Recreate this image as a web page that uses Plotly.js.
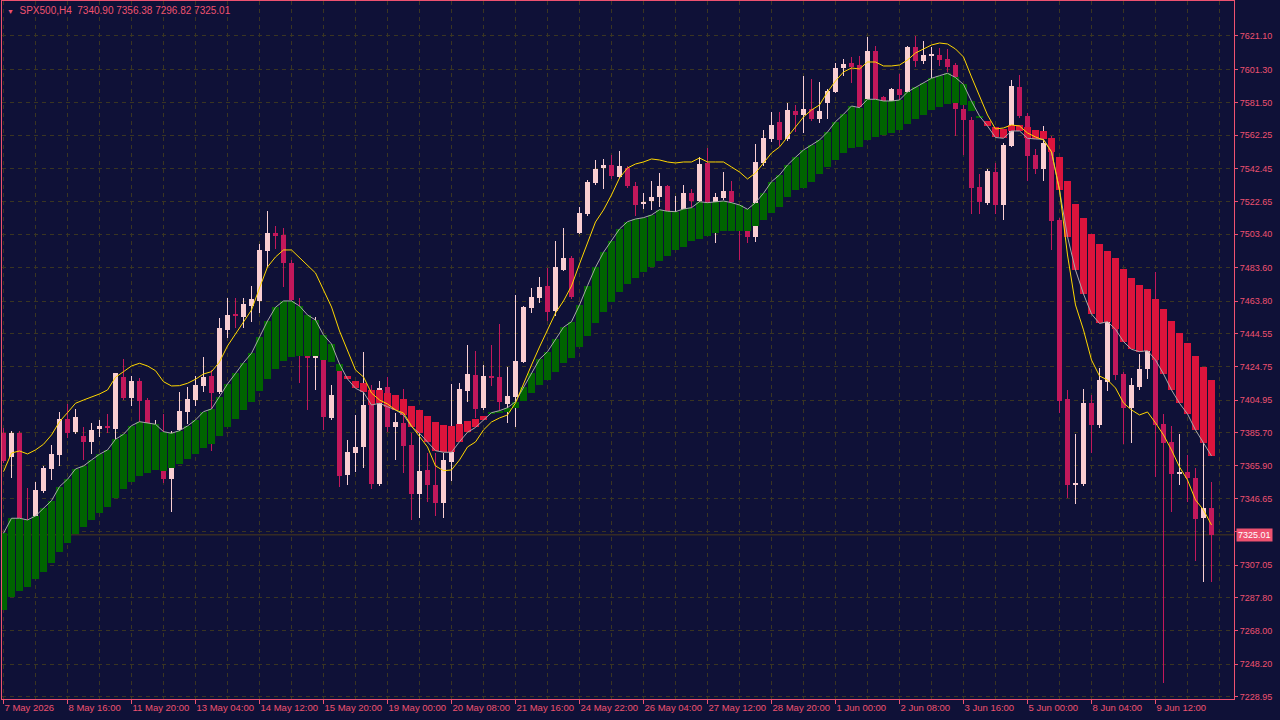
<!DOCTYPE html>
<html><head><meta charset="utf-8">
<script src="https://cdn.plot.ly/plotly-3.0.1.min.js"></script>
<style>html,body{margin:0;padding:0;background:#0F1137;overflow:hidden}#chart{width:1280px;height:720px}</style>
</head><body><div id="chart"></div>
<script>
const symbol = 'SPX500,H4';
const timeLabels = ['7 May 2026','8 May 16:00','11 May 20:00','13 May 04:00','14 May 12:00','15 May 20:00','19 May 00:00','20 May 08:00','21 May 16:00','24 May 22:00','26 May 04:00','27 May 12:00','28 May 20:00','1 Jun 00:00','2 Jun 08:00','3 Jun 16:00','5 Jun 00:00','8 Jun 04:00','9 Jun 12:00'];
const priceTicks = [7621.10,7601.30,7581.50,7562.25,7542.45,7522.65,7503.40,7483.60,7463.80,7444.55,7424.75,7404.95,7385.70,7365.90,7346.65,7326.85,7307.05,7287.80,7268.00,7248.20,7228.95];

const openP = [7385.48,7371.06,7385.48,7332.66,7336.40,7351.06,7364.12,7372.43,7393.79,7386.08,
7383.70,7380.32,7387.68,7389.64,7387.86,7418.90,7406.44,7416.35,7405.05,7381.33,
7362.93,7358.18,7387.27,7398.13,7405.05,7413.56,7419.49,7410.00,7446.62,7455.93,
7454.51,7461.04,7464.00,7493.68,7504.01,7503.00,7486.20,7458.49,7446.62,7430.18,
7437.71,7394.21,7422.88,7360.56,7373.79,7377.35,7411.01,7355.22,7412.61,7389.22,
7391.60,7378.36,7349.28,7363.53,7354.62,7344.12,7368.45,7390.83,7410.59,7419.91,
7400.14,7419.31,7418.54,7402.70,7406.67,7427.80,7459.85,7465.79,7472.73,7458.07,
7482.23,7489.53,7504.36,7515.46,7534.04,7542.58,7544.54,7537.60,7542.58,7532.08,
7521.22,7523.35,7525.73,7532.08,7510.71,7518.43,7527.92,7523.18,7545.91,7522.76,
7524.78,7529.11,7519.02,7514.87,7501.63,7545.91,7559.97,7569.88,7559.80,7576.77,
7574.22,7577.78,7571.84,7581.52,7588.05,7602.29,7604.90,7603.89,7583.54,7612.20,
7584.90,7582.11,7589.65,7588.05,7614.40,7606.27,7609.53,7609.83,7607.45,7603.89,
7577.78,7571.25,7531.31,7521.81,7540.57,7520.80,7555.82,7591.01,7573.62,7550.48,
7542.17,7560.39,7511.90,7405.49,7354.62,7355.22,7403.11,7390.23,7415.93,7447.80,
7420.50,7400.50,7412.96,7423.47,7431.78,7390.83,7380.14,7361.15,7362.34,7358.78,
7335.04,7340.90];
const highP = [7388.45,7386.67,7386.67,7352.84,7356.40,7365.90,7378.36,7397.95,7402.70,7399.73,
7389.05,7391.42,7393.20,7396.76,7421.27,7429.23,7419.31,7418.13,7406.26,7393.20,
7396.76,7386.85,7410.00,7412.79,7419.49,7430.77,7422.88,7453.74,7465.61,7465.61,
7465.61,7472.73,7497.66,7517.24,7508.34,7506.97,7488.16,7465.79,7452.55,7454.51,
7440.68,7413.97,7427.03,7381.33,7396.17,7433.38,7413.97,7416.35,7418.54,7397.35,
7411.60,7385.48,7385.48,7373.44,7373.44,7373.44,7414.39,7414.98,7437.71,7434.33,
7425.84,7437.71,7450.18,7424.48,7467.39,7461.04,7471.36,7478.25,7483.59,7499.61,
7507.33,7490.53,7519.79,7535.64,7547.51,7548.10,7550.48,7552.85,7543.95,7534.27,
7527.75,7535.05,7539.62,7532.67,7526.14,7532.67,7530.12,7549.11,7554.81,7528.10,
7540.21,7535.05,7520.21,7516.65,7557.01,7565.32,7576.00,7576.00,7581.34,7580.15,
7597.54,7595.41,7593.98,7589.65,7604.90,7607.45,7608.82,7609.23,7620.69,7615.17,
7585.67,7590.42,7598.55,7615.17,7621.10,7618.14,7614.40,7613.80,7613.21,7604.90,
7581.16,7573.03,7539.20,7542.17,7545.55,7557.60,7594.99,7597.96,7575.40,7554.04,
7567.69,7561.75,7513.09,7411.01,7384.89,7411.42,7408.04,7423.88,7453.74,7451.36,
7421.87,7418.31,7432.37,7435.34,7481.22,7396.76,7389.64,7384.89,7372.43,7364.53,
7380.14,7356.38];
const lowP = [7367.68,7358.78,7330.88,7321.98,7330.88,7350.05,7357.59,7365.90,7382.70,7384.89,
7369.46,7373.02,7383.29,7385.66,7381.33,7405.05,7401.69,7392.19,7388.45,7378.36,
7355.63,7338.78,7386.08,7390.83,7401.51,7410.00,7374.80,7408.63,7442.05,7447.80,
7447.62,7451.54,7456.70,7484.18,7494.51,7472.31,7461.45,7414.98,7399.14,7411.01,
7387.27,7393.20,7353.26,7354.62,7362.52,7364.89,7352.43,7354.03,7386.26,7369.46,
7361.92,7333.85,7334.86,7344.71,7336.22,7334.86,7357.17,7389.64,7404.06,7394.21,
7399.14,7413.38,7398.72,7391.60,7389.22,7427.03,7456.88,7462.82,7451.96,7454.92,
7481.63,7465.01,7503.59,7514.27,7532.67,7530.30,7536.23,7536.83,7530.89,7514.27,
7518.43,7517.84,7519.79,7515.46,7507.15,7516.65,7518.84,7521.99,7520.80,7498.43,
7523.76,7521.40,7488.16,7498.07,7499.02,7543.95,7558.19,7555.82,7558.79,7564.31,
7563.36,7570.66,7569.47,7571.67,7587.10,7597.54,7593.03,7577.19,7582.53,7582.53,
7577.19,7563.36,7583.11,7586.09,7602.53,7604.49,7595.41,7603.48,7599.74,7561.93,
7550.48,7515.28,7515.28,7520.80,7515.46,7511.90,7555.23,7572.44,7535.22,7539.20,
7535.05,7494.10,7397.18,7346.73,7343.35,7354.03,7373.44,7388.63,7410.59,7416.94,
7378.96,7379.73,7411.01,7417.53,7359.55,7237.29,7338.78,7354.62,7344.71,7309.69,
7297.23,7296.82];
const closeP = [7369.04,7385.66,7335.04,7324.95,7351.66,7364.89,7373.02,7393.79,7385.66,7394.98,
7380.32,7387.27,7389.64,7388.63,7421.09,7406.44,7416.35,7404.48,7391.60,7387.27,
7358.18,7364.89,7398.54,7405.66,7413.97,7418.90,7409.40,7447.80,7455.52,7455.10,
7462.05,7465.01,7494.10,7504.01,7502.58,7486.20,7464.40,7437.71,7430.18,7440.68,
7395.16,7408.04,7359.96,7374.03,7377.18,7402.10,7355.22,7412.01,7389.22,7392.19,
7377.77,7349.28,7363.11,7354.62,7344.12,7369.46,7374.98,7411.60,7420.50,7399.55,
7419.31,7418.31,7404.06,7407.44,7428.39,7460.44,7466.02,7472.31,7457.48,7484.18,
7489.53,7466.38,7516.23,7534.63,7542.17,7544.54,7538.19,7543.95,7532.26,7520.80,
7522.76,7525.73,7532.08,7516.83,7515.46,7527.92,7523.35,7545.14,7522.17,7525.73,
7529.11,7522.76,7507.15,7501.63,7546.14,7560.39,7568.28,7559.38,7577.19,7574.22,
7577.78,7571.84,7576.59,7588.46,7602.29,7604.49,7602.88,7578.79,7612.20,7583.54,
7581.34,7589.65,7586.09,7614.75,7606.27,7609.83,7609.83,7606.86,7602.88,7577.78,
7571.25,7531.07,7522.76,7540.98,7520.80,7556.41,7591.43,7573.62,7549.88,7542.17,
7557.78,7511.48,7404.65,7354.62,7355.63,7403.47,7390.23,7416.94,7452.13,7419.91,
7400.50,7413.97,7423.47,7435.16,7390.23,7379.73,7361.15,7361.92,7358.78,7334.62,
7340.90,7325.01];
const signalLine = [7325.96,7334.86,7334.86,7333.85,7336.22,7340.79,7345.30,7353.61,7358.01,7364.12,
7365.90,7369.46,7372.84,7375.40,7381.75,7384.71,7389.82,7392.19,7391.60,7390.65,
7386.26,7385.31,7386.85,7389.64,7393.20,7398.13,7399.73,7407.03,7414.57,7420.80,
7427.21,7432.79,7442.64,7451.96,7460.09,7463.83,7463.83,7460.86,7455.52,7452.55,
7443.65,7438.31,7426.44,7417.53,7412.01,7409.64,7402.10,7403.11,7401.09,7399.14,
7396.17,7389.22,7385.31,7380.32,7374.98,7374.03,7374.03,7380.32,7385.90,7388.75,
7393.20,7397.53,7398.72,7400.50,7404.06,7412.61,7420.92,7429.23,7433.74,7441.10,
7448.22,7451.54,7461.45,7472.91,7483.83,7492.73,7499.44,7506.56,7510.89,7512.49,
7513.27,7514.87,7518.01,7517.06,7516.83,7518.43,7519.20,7522.76,7522.17,7522.76,
7523.18,7522.17,7520.80,7518.25,7522.17,7527.75,7534.63,7538.61,7544.54,7549.11,
7553.45,7556.41,7559.38,7564.13,7570.24,7574.63,7579.56,7578.55,7583.54,7583.54,
7582.53,7582.53,7583.11,7587.87,7590.66,7593.39,7596.00,7597.54,7598.97,7596.47,
7592.32,7582.41,7573.62,7567.69,7560.86,7560.39,7564.72,7564.72,7560.39,7559.97,
7559.80,7552.44,7529.71,7501.99,7482.23,7467.98,7456.11,7450.47,7451.54,7447.03,
7439.67,7435.16,7433.74,7434.33,7428.81,7420.50,7411.01,7403.11,7396.76,7387.27,
7379.73,7371.83];
const cloudEdge = [7280.44,7288.33,7291.89,7294.26,7298.66,7303.17,7308.51,7315.04,7320.02,7325.54,
7329.87,7333.85,7338.18,7341.74,7347.09,7352.07,7356.58,7360.14,7361.92,7363.53,
7363.11,7364.89,7367.09,7370.05,7373.02,7376.76,7378.96,7383.70,7389.22,7393.79,
7399.14,7404.06,7410.41,7417.53,7423.47,7428.22,7430.77,7431.36,7431.36,7431.36,
7428.81,7427.80,7422.46,7419.31,7416.35,7415.34,7411.01,7411.01,7409.40,7408.04,
7405.49,7401.51,7399.14,7395.57,7392.19,7390.23,7389.82,7390.83,7392.61,7393.67,
7395.57,7396.76,7397.53,7398.13,7400.14,7404.48,7409.05,7413.97,7416.94,7421.87,
7427.21,7429.82,7436.35,7443.05,7450.95,7457.48,7463.41,7469.35,7473.92,7477.66,
7481.22,7484.18,7487.74,7490.53,7494.10,7496.05,7499.44,7500.62,7502.58,7504.36,
7505.37,7505.37,7505.37,7505.37,7508.34,7511.90,7516.23,7519.79,7525.55,7529.71,
7531.07,7534.63,7539.20,7543.36,7547.51,7551.66,7554.45,7555.40,7559.38,7561.34,
7562.17,7563.71,7565.32,7568.88,7571.84,7574.22,7577.19,7579.14,7580.75,7581.16,
7580.15,7576.77,7572.85,7570.83,7567.10,7565.73,7568.28,7567.99,7566.92,7565.32,
7564.72,7560.39,7549.11,7535.05,7521.40,7513.27,7503.59,7497.66,7493.50,7489.35,
7482.82,7477.48,7473.32,7470.95,7465.01,7459.08,7451.96,7444.66,7438.72,7431.18,
7424.83,7416.94];
const fastLine = [7362.52,7373.61,7374.80,7373.02,7375.40,7378.78,7384.30,7392.19,7397.53,7403.11,
7405.05,7406.67,7408.63,7411.01,7418.54,7421.87,7425.25,7426.85,7425.25,7422.46,
7415.93,7413.38,7413.56,7414.98,7417.36,7420.50,7421.87,7427.62,7437.12,7444.24,
7451.36,7458.49,7471.54,7484.01,7489.94,7494.10,7494.10,7489.35,7484.60,7480.44,
7470.36,7460.27,7446.02,7434.75,7422.88,7418.72,7409.22,7405.05,7402.70,7399.14,
7397.35,7389.64,7383.70,7377.18,7365.90,7363.11,7363.53,7369.46,7377.18,7380.14,
7387.27,7392.01,7394.39,7396.17,7403.29,7415.16,7425.84,7436.53,7446.62,7456.70,
7463.83,7472.73,7485.79,7498.25,7510.71,7517.84,7526.74,7536.83,7542.76,7545.14,
7546.32,7548.10,7547.51,7546.32,7545.73,7546.32,7546.32,7548.70,7546.32,7546.32,
7546.32,7543.36,7540.39,7536.23,7539.79,7545.73,7551.66,7555.23,7561.16,7567.69,
7573.03,7577.19,7580.15,7587.87,7594.40,7599.74,7602.11,7601.52,7605.67,7605.67,
7603.30,7603.30,7603.89,7606.86,7611.01,7613.39,7615.76,7616.95,7616.36,7613.39,
7608.64,7596.77,7584.90,7574.22,7565.91,7566.50,7568.28,7567.69,7563.53,7561.16,
7559.38,7552.26,7529.71,7491.13,7461.45,7446.62,7428.81,7419.31,7416.94,7412.19,
7403.29,7399.14,7396.17,7397.95,7391.42,7384.30,7375.40,7365.31,7357.59,7345.70,
7339.79,7330.88];

const BG = '#0F1137', AX = '#EE5270', GRID = '#3A3522';
const BULL = '#F9CED2', BEAR = '#C2185B', UPC = '#006400', DNC = '#DC143C';
const n = closeP.length;
const idx = closeP.map((_, i) => i);
const last = n - 1;
const candleCol = idx.map(i => closeP[i] >= openP[i] ? BULL : BEAR);

const wicks = {type:'bar', x:idx, base:lowP, y:idx.map(i => highP[i] - lowP[i]), width:0.12,
  marker:{color:candleCol, line:{width:0}}, hoverinfo:'skip'};
const bodies = {type:'bar', x:idx, base:idx.map(i => Math.min(openP[i], closeP[i])),
  y:idx.map(i => Math.max(Math.abs(closeP[i] - openP[i]), 0.35)), width:0.625,
  marker:{color:candleCol, line:{width:0}}, hoverinfo:'skip'};
const cloud = {type:'bar', x:idx, base:idx.map(i => Math.min(signalLine[i], cloudEdge[i])),
  y:idx.map(i => Math.max(Math.abs(signalLine[i] - cloudEdge[i]), 0.35)), width:0.875,
  marker:{color:idx.map(i => signalLine[i] >= cloudEdge[i] ? UPC : DNC), line:{width:0}}, hoverinfo:'skip'};
const grey = {type:'scatter', mode:'lines', x:idx, y:signalLine, line:{color:'#A8A8A8', width:1}, hoverinfo:'skip'};
const yellow = {type:'scatter', mode:'lines', x:idx, y:fastLine, line:{color:'#FFD700', width:1}, hoverinfo:'skip'};

const tickStep = 8;
const tickvals = timeLabels.map((_, k) => k * tickStep);
const fmt = v => v.toFixed(2);
const lastClose = closeP[last];

const layout = {
  width:1280, height:720,
  margin:{l:2, r:46, t:1, b:21, pad:0},
  paper_bgcolor:BG, plot_bgcolor:BG,
  barmode:'overlay', bargap:0,
  showlegend:false, hovermode:false,
  font:{family:'Liberation Sans, Arial, sans-serif', color:AX, size:9},
  xaxis:{range:[-0.1875, n + 1.8125], tickmode:'array', tickvals:tickvals, ticktext:timeLabels,
    tickangle:0, ticks:'outside', ticklen:4, tickcolor:AX, tickwidth:1,
    showline:true, linecolor:AX, linewidth:1, mirror:true,
    showgrid:true, gridcolor:GRID, griddash:'4px,4px', gridwidth:1, zeroline:false,
    ticklabelposition:'outside right', tickfont:{size:9.5, color:AX},
    minor:{tickmode:'linear', tick0:0, dtick:4, showgrid:true, gridcolor:GRID, griddash:'4px,4px', gridwidth:1, ticks:''},
    fixedrange:true},
  yaxis:{side:'right', range:[7227.58, 7641.87], tickmode:'array', tickvals:priceTicks,
    ticktext:priceTicks.map(v => Math.abs(v - lastClose) < 5 ? '' : fmt(v)),
    ticks:'outside', ticklen:3, tickcolor:AX, tickwidth:1,
    showline:true, linecolor:AX, linewidth:1, mirror:true,
    showgrid:true, gridcolor:GRID, griddash:'4px,4px', gridwidth:1, zeroline:false,
    tickfont:{size:9, color:AX}, fixedrange:true},
  shapes:[{type:'line', xref:'paper', x0:0, x1:1, yref:'y', y0:lastClose, y1:lastClose,
    line:{color:'#4A3A1A', width:1}, layer:'below'}],
  annotations:[
    {xref:'paper', yref:'paper', x:0, y:1, xanchor:'left', yanchor:'top', xshift:3, yshift:-2,
     showarrow:false, align:'left',
     text:'<span style="font-size:7px">▼</span>&nbsp;&nbsp;' + symbol + '&nbsp;&nbsp;' +
       fmt(openP[last]) + ' ' + fmt(highP[last]) + ' ' + fmt(lowP[last]) + ' ' + fmt(closeP[last]),
     font:{size:10, color:AX}},
    {xref:'paper', x:1, xanchor:'left', xshift:2, yref:'y', y:lastClose, yanchor:'middle',
     showarrow:false, text:fmt(lastClose), bgcolor:AX, borderpad:1,
     font:{size:9, color:'#FFFFFF'}}
  ]
};

Plotly.newPlot('chart', [wicks, bodies, cloud, grey, yellow], layout, {displayModeBar:false, responsive:false});
</script>
</body></html>
